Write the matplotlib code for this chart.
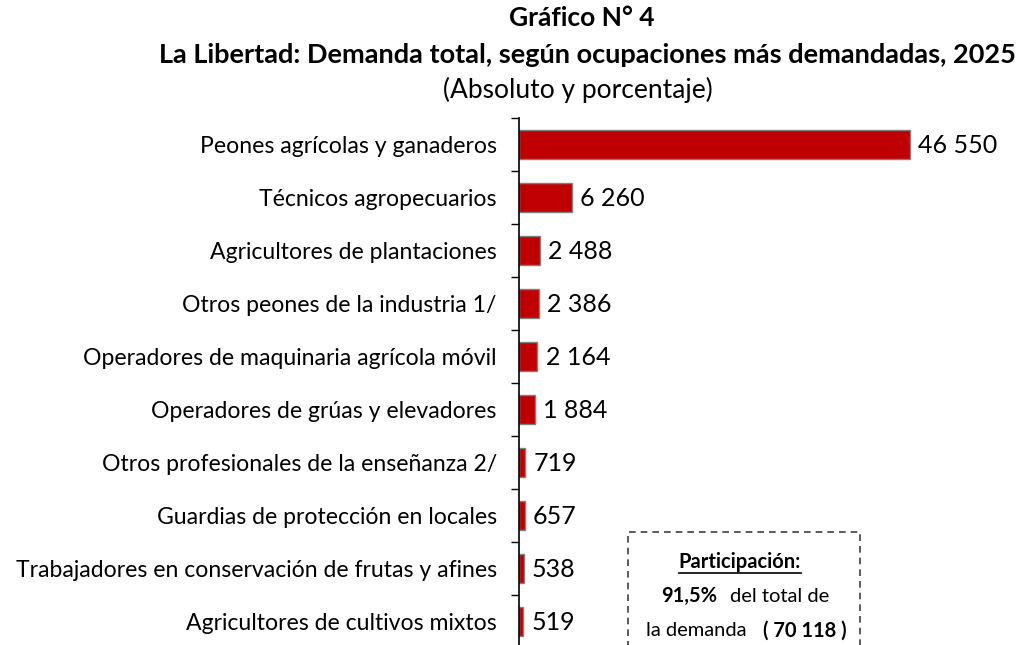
import matplotlib
matplotlib.use('Agg')
import matplotlib.pyplot as plt
from matplotlib.lines import Line2D

plt.rcParams['font.family'] = ['Lato', 'DejaVu Sans']

# ocupaciones y demanda (de mayor a menor)
ocupaciones = [
    "Peones agrícolas y ganaderos",
    "Técnicos agropecuarios",
    "Agricultores de plantaciones",
    "Otros peones de la industria 1/",
    "Operadores de maquinaria agrícola móvil",
    "Operadores de grúas y elevadores",
    "Otros profesionales de la enseñanza 2/",
    "Guardias de protección en locales",
    "Trabajadores en conservación de frutas y afines",
    "Agricultores de cultivos mixtos",
]
demanda = [46550, 6260, 2488, 2386, 2164, 1884, 719, 657, 538, 519]
etiquetas = ["46 550", "6 260", "2 488", "2 386", "2 164", "1 884", "719", "657", "538", "519"]

W, H = 1018, 645
fig = plt.figure(figsize=(W / 100, H / 100), dpi=100)


def fx(px):
    return px / W


def fy(py):
    return 1 - py / H


# axes: left at x=519, top at y=118, rows of 53 px
ax = fig.add_axes([fx(519), fy(648), fx(1000) - fx(519), fy(118) - fy(648)])

n = len(ocupaciones)
pos = list(range(n))
ax.barh(pos, demanda, height=0.53, color='#C00000', edgecolor='#808080', linewidth=1)
ax.set_ylim(n - 0.5, -0.5)
ax.set_xlim(0, max(demanda) * 1.23)

for i, (v, t) in enumerate(zip(demanda, etiquetas)):
    ax.annotate(t, (v, i), xytext=(6, -1), textcoords='offset points',
                va='center', ha='left', fontsize=18)

ax.set_yticks(pos)
ax.set_yticklabels(ocupaciones, fontsize=16.6)
ax.tick_params(axis='y', which='major', length=0, pad=16)
ax.set_yticks([p - 0.5 for p in pos] + [n - 0.5], minor=True)
ax.tick_params(axis='y', which='minor', length=6, width=1, color='black')

ax.set_xticks([])
for s in ['top', 'right', 'bottom']:
    ax.spines[s].set_visible(False)
ax.spines['left'].set_linewidth(1.2)

# titulos
fig.text(fx(582), fy(18), "Gráfico N° 4", ha='center', va='center',
         fontsize=19, fontweight='bold')
fig.text(fx(587), fy(55), "La Libertad: Demanda total, según ocupaciones más demandadas, 2025",
         ha='center', va='center', fontsize=19.5, fontweight='bold')
fig.text(fx(578), fy(90), "(Absoluto y porcentaje)", ha='center', va='center', fontsize=19)

# recuadro de participacion
caja = plt.Rectangle((fx(628), fy(660)), fx(860) - fx(628), fy(532) - fy(660),
                     transform=fig.transFigure, fill=False, edgecolor='#404040',
                     linestyle=(0, (4, 3)), linewidth=1.2)
fig.add_artist(caja)

t1 = fig.text(fx(740), fy(562), "Participación:", ha='center', va='center',
              fontsize=14.5, fontweight='bold')
fig.text(fx(717), fy(596), "91,5%", ha='right', va='center', fontsize=14.5, fontweight='bold')
fig.text(fx(730), fy(596), "del total de", ha='left', va='center', fontsize=14.5)
fig.text(fx(747), fy(631), "la demanda", ha='right', va='center', fontsize=14.5)
fig.text(fx(763), fy(631), "( 70 118 )", ha='left', va='center', fontsize=14.5, fontweight='bold')

fig.canvas.draw()
bb = t1.get_window_extent().transformed(fig.transFigure.inverted())
fig.add_artist(Line2D([bb.x0, bb.x1], [bb.y0 - 0.002, bb.y0 - 0.002],
                      transform=fig.transFigure, color='black', linewidth=1.2))

fig.savefig('out.png', dpi=100)
